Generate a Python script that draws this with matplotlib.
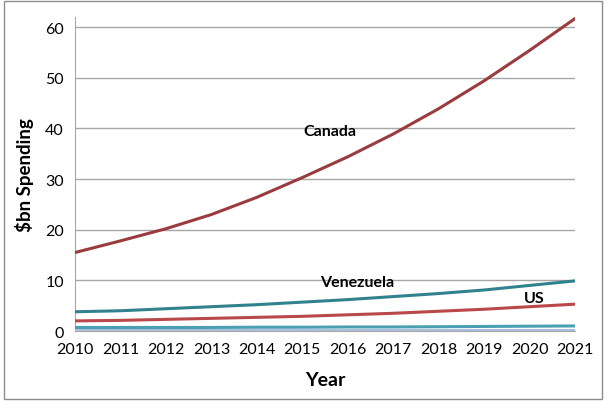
import matplotlib.pyplot as plt
from matplotlib.patches import Rectangle

years = list(range(2010, 2022))
canada = [15.5, 17.8, 20.2, 23.0, 26.4, 30.3, 34.4, 38.9, 43.9, 49.4, 55.4, 61.7]
venezuela = [3.8, 4.0, 4.4, 4.8, 5.2, 5.7, 6.2, 6.8, 7.4, 8.1, 9.0, 9.9]
us = [2.0, 2.1, 2.3, 2.5, 2.7, 2.9, 3.2, 3.5, 3.9, 4.3, 4.8, 5.3]
other1 = [0.7, 0.7, 0.7, 0.7, 0.75, 0.75, 0.8, 0.8, 0.85, 0.9, 0.95, 1.0]
other2 = [0.15] * 12

font = ['Lato', 'DejaVu Sans']
plt.rcParams['font.family'] = font

fig = plt.figure(figsize=(6.06, 4.02), dpi=100)
fig.patches.append(Rectangle((0.006, 0.006), 0.988, 0.988, transform=fig.transFigure,
                             fill=False, edgecolor='#8c8c8c', linewidth=1))
ax = fig.add_axes([0.1238, 0.1741, 0.825, 0.781])

ax.plot(years, other2, color='#a9bfdc', lw=2.2, zorder=3)
ax.plot(years, other1, color='#4aa0b2', lw=2.2, zorder=3)
ax.plot(years, us, color='#b8484a', lw=2.2, zorder=3)
ax.plot(years, venezuela, color='#31818f', lw=2.2, zorder=3)
ax.plot(years, canada, color='#9a3b3e', lw=2.2, zorder=3)

ax.set_xlim(2010, 2021)
ax.set_ylim(0, 62)
ax.set_xticks(years)
ax.set_yticks(range(0, 61, 10))
ax.grid(axis='y', color='#a6a6a6', lw=1)
ax.set_axisbelow(True)
for s in ['top', 'right']:
    ax.spines[s].set_visible(False)
ax.spines['left'].set_color('#a6a6a6')
ax.spines['bottom'].set_color('#a6a6a6')
ax.tick_params(length=0, labelsize=11.5, colors='black')
ax.tick_params(axis='x', pad=8)
ax.tick_params(axis='y', pad=8)

ax.set_xlabel('Year', fontsize=14, fontweight='bold', labelpad=11)
ax.set_ylabel('$bn Spending', fontsize=13.5, fontweight='bold', labelpad=8)

ax.text(2015.6, 39.4, 'Canada', fontsize=11.5, fontweight='bold', ha='center', va='center')
ax.text(2016.2, 9.6, 'Venezuela', fontsize=11.5, fontweight='bold', ha='center', va='center')
ax.text(2020.1, 6.5, 'US', fontsize=11.5, fontweight='bold', ha='center', va='center')

fig.savefig('out.png', dpi=100)
